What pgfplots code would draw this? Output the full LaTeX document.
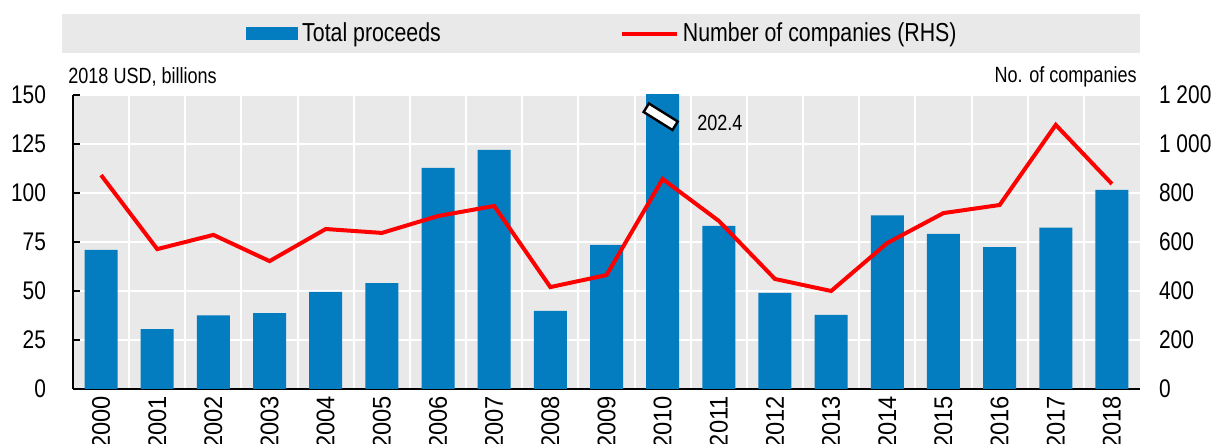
\documentclass[border=0pt]{standalone}
\usepackage{fontspec}
\setmainfont{Liberation Sans}[FakeStretch=0.82]
\newfontfamily\xfont{Liberation Sans}[FakeStretch=0.93]
\usepackage{pgfplots}
\pgfplotsset{compat=1.18}
\definecolor{oblue}{RGB}{4,124,192}
\definecolor{obg}{RGB}{233,233,233}
\definecolor{ored}{RGB}{255,0,0}
\begin{document}
\begin{tikzpicture}
\fill[obg] (-5.5pt,168pt) rectangle (533.5pt,187.5pt);
\begin{axis}[
  at={(0,0)}, anchor=south west, scale only axis,
  width=533.5pt, height=147pt,
  xmin=-0.5, xmax=18.5, ymin=0, ymax=150,
  clip mode=individual,
  axis background/.style={fill=obg},
  axis x line*=bottom, axis y line*=left,
  axis line style={-, line width=1pt, black},
  ytick={0,25,...,150},
  ymajorgrids, major grid style={white, line width=1pt},
  xtick={0,...,18},
  xticklabels={2000,2001,2002,2003,2004,2005,2006,2007,2008,2009,2010,2011,2012,2013,2014,2015,2016,2017,2018},
  minor xtick={0.5,1.5,...,17.5}, xminorgrids, minor grid style={white, line width=1pt},
  minor tick length=0pt,
  xtick style={draw=none},
  ytick style={black, line width=1pt}, major tick length=3.5pt, tick align=inside,
  ticklabel style={font=\fontsize{12.75}{15}\selectfont},
  /pgf/number format/assume math mode=true,
  yticklabel style={xshift=-10pt},
  xticklabel style={rotate=90, anchor=east, font=\xfont\fontsize{12.75}{15}\selectfont},
]
\addplot[ybar, bar width=16.5pt, fill=oblue, draw=none] table[x=x, y=y] {
x y
0 71
1 30.5
2 37.5
3 38.7
4 49.5
5 54
6 112.8
7 122
8 39.8
9 73.5
10 202.4
11 83.2
12 49
13 37.8
14 88.6
15 79.2
16 72.4
17 82.3
18 101.6
};
\node[draw=black, fill=white, line width=1.2pt, minimum width=17pt, minimum height=5pt, inner sep=0pt, rotate=-32] at (axis cs:9.965,138.9) {};
\node[anchor=west, inner sep=0pt, font=\fontsize{11}{13}\selectfont] at (axis cs:10.61,135.7) {202.4};
\node[anchor=west, inner sep=0pt, font=\fontsize{11}{13}\selectfont] at ([xshift=-2.5pt,yshift=9pt]rel axis cs:0,1) {2018 USD, billions};
\end{axis}
\begin{axis}[
  at={(0,0)}, anchor=south west, scale only axis,
  width=533.5pt, height=147pt,
  xmin=-0.5, xmax=18.5, ymin=0, ymax=1200,
  clip mode=individual,
  axis x line=none, axis y line*=right,
  y axis line style={draw=none},
  xtick=\empty,
  ytick={0,200,...,1200},
  yticklabels={0,200,400,600,800,1 000,1 200},
  ytick style={draw=none},
  ticklabel style={font=\fontsize{12.75}{15}\selectfont},
  yticklabel style={xshift=6pt},
  legend columns=2,
  legend style={at={(0.4972,1.209)}, anchor=center, draw=none, fill=none,
    font=\fontsize{13}{15}\selectfont,
    /tikz/every even column/.append style={column sep=87.5pt}},
  legend cell align=left,
]
\addlegendimage{legend image code/.code={\fill[oblue] (0pt,-3pt) rectangle (25.5pt,3pt);}}
\addlegendentry{Total proceeds}
\addplot[ored, line width=2pt, mark=none,
  legend image code/.code={\draw[ored, line width=2pt] (0pt,0pt) -- (27.5pt,0pt);}] table[x=x, y=y] {
x y
0 873
1 571
2 629
3 522
4 653
5 637
6 706
7 747
8 416
9 465
10 857
11 686
12 449
13 400
14 596
15 718
16 751
17 1078
18 837
};
\addlegendentry{Number of companies (RHS)}
\node[anchor=east, inner sep=0pt, font=\fontsize{11}{13}\selectfont] at ([xshift=-1.5pt,yshift=9pt]rel axis cs:1,1) {No. of companies};
\end{axis}
\pgfresetboundingbox
\path (-36.5pt,-27.5pt) rectangle (571pt,194.5pt);
\end{tikzpicture}
\end{document}
